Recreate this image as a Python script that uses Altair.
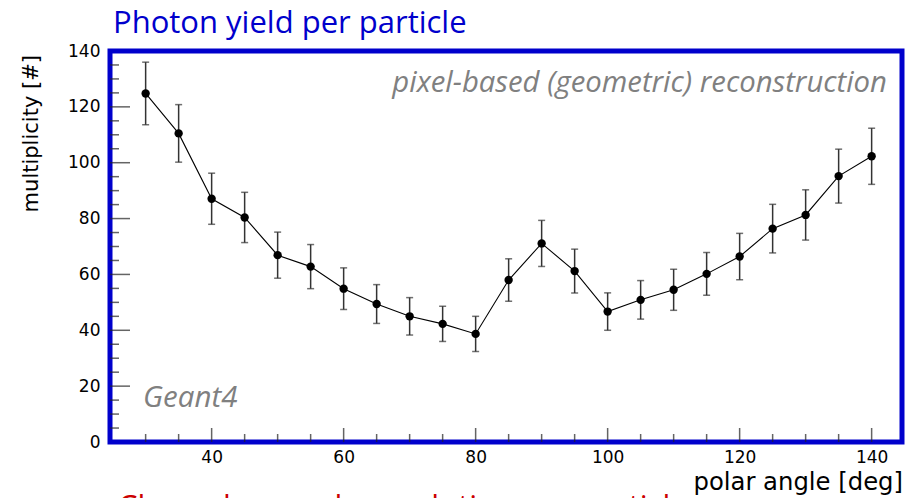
import altair as alt
import pandas as pd

# Photon multiplicity per particle vs. polar angle (Geant4, pixel-based reconstruction)
angle = [30, 35, 40, 45, 50, 55, 60, 65, 70, 75, 80, 85, 90, 95, 100,
         105, 110, 115, 120, 125, 130, 135, 140]
multiplicity = [124.8, 110.5, 87.1, 80.4, 66.9, 62.8, 54.9, 49.4, 45.0, 42.3,
                38.7, 58.0, 71.1, 61.2, 46.7, 50.9, 54.5, 60.2, 66.4, 76.4,
                81.3, 95.2, 102.3]
error = [11.2, 10.3, 9.15, 9.0, 8.25, 7.9, 7.45, 6.95, 6.7, 6.3, 6.3, 7.6,
         8.25, 7.85, 6.7, 6.9, 7.35, 7.65, 8.3, 8.7, 9.0, 9.65, 10.05]

# Axis tick positions (ticks drawn inside the frame, ROOT style)
x_major = [40, 60, 80, 100, 120, 140]
x_minor = [30, 35, 45, 50, 55, 65, 70, 75, 85, 90, 95, 105, 110, 115,
           125, 130, 135]
y_major = [20, 40, 60, 80, 100, 120]
y_minor = [5, 10, 15, 25, 30, 35, 45, 50, 55, 65, 70, 75, 85, 90, 95,
           105, 110, 115, 125, 130, 135]

W, H = 792, 391
X_DOMAIN = [24.6, 144.6]
Y_DOMAIN = [0, 140]
AXIS_FONT = "DejaVu Sans"
TEXT_FONT = "Open Sans"
TICK_COLOR = "#222222"

df = pd.DataFrame({"angle": angle, "mult": multiplicity, "err": error})
df["lo"] = df["mult"] - df["err"]
df["hi"] = df["mult"] + df["err"]

xs = alt.Scale(domain=X_DOMAIN, nice=False, zero=False)
ys = alt.Scale(domain=Y_DOMAIN, nice=False, zero=False)

x_axis = alt.Axis(
    values=x_major, format="d", grid=False, domain=False, ticks=False, tickSize=0,
    labelFont=AXIS_FONT, labelFontSize=17, labelColor="black", labelPadding=7,
    title=None,
)
y_axis = alt.Axis(
    values=[0] + y_major + [140], format="d", grid=False, domain=False, ticks=False,
    tickSize=0, labelFont=AXIS_FONT, labelFontSize=17, labelColor="black",
    labelPadding=10, title=None,
)

base = alt.Chart(df)

err_rules = base.mark_rule(color="#333333", strokeWidth=1.5).encode(
    x=alt.X("angle:Q", scale=xs, axis=x_axis),
    y=alt.Y("lo:Q", scale=ys, axis=y_axis),
    y2="hi:Q",
)
cap_lo = base.mark_tick(orient="horizontal", size=7, thickness=1.5,
                        color="#333333").encode(
    x=alt.X("angle:Q", scale=xs), y=alt.Y("lo:Q", scale=ys))
cap_hi = base.mark_tick(orient="horizontal", size=7, thickness=1.5,
                        color="#333333").encode(
    x=alt.X("angle:Q", scale=xs), y=alt.Y("hi:Q", scale=ys))
line = base.mark_line(color="black", strokeWidth=1.1).encode(
    x=alt.X("angle:Q", scale=xs), y=alt.Y("mult:Q", scale=ys))
points = base.mark_circle(color="black", opacity=1, size=70).encode(
    x=alt.X("angle:Q", scale=xs), y=alt.Y("mult:Q", scale=ys))

# Inner tick marks
xt_major = alt.Chart(pd.DataFrame({"v": x_major})).mark_tick(
    orient="vertical", size=14, thickness=1.5, color=TICK_COLOR).encode(
    x=alt.X("v:Q", scale=xs), y=alt.value(H - 7))
xt_minor = alt.Chart(pd.DataFrame({"v": x_minor})).mark_tick(
    orient="vertical", size=8, thickness=1.5, color=TICK_COLOR).encode(
    x=alt.X("v:Q", scale=xs), y=alt.value(H - 4))
yt_major = alt.Chart(pd.DataFrame({"v": y_major})).mark_tick(
    orient="horizontal", size=20, thickness=1.5, color=TICK_COLOR).encode(
    y=alt.Y("v:Q", scale=ys), x=alt.value(10))
yt_minor = alt.Chart(pd.DataFrame({"v": y_minor})).mark_tick(
    orient="horizontal", size=9, thickness=1.5, color=TICK_COLOR).encode(
    y=alt.Y("v:Q", scale=ys), x=alt.value(4.5))

one = pd.DataFrame({"k": [0]})


def label(text, x, y, color, size, align="left", style="normal",
          font=TEXT_FONT, angle=0):
    return alt.Chart(one).mark_text(
        text=text, font=font, fontSize=size, color=color, align=align,
        baseline="alphabetic", fontStyle=style, angle=angle,
    ).encode(x=alt.value(x), y=alt.value(y))


# Axis titles
x_title = label("polar angle [deg]", W + 1, H + 48, "black", 24.3,
                align="right", font=AXIS_FONT)
y_title = label("multiplicity [#]", -72, 4, "black", 21, align="right",
                font=AXIS_FONT, angle=270)

title = label("Photon yield per particle", 3, -18, "#0000CC", 31)
method = label("pixel-based (geometric) reconstruction", 777, 40.7, "#808080",
               29.3, align="right", style="italic")
geant = label("Geant4", 33, 355.7, "#808080", 29.5, style="italic")
next_title = label("Cherenkov angle resolution per particle", 8, 466,
                   "#CC0000", 31)

chart = alt.layer(
    err_rules, cap_lo, cap_hi, line, points,
    xt_major, xt_minor, yt_major, yt_minor,
    x_title, y_title, title, method, geant, next_title,
).properties(
    width=W, height=H,
    autosize=alt.AutoSizeParams(type="none"),
    padding={"left": 110, "top": 51, "right": 3, "bottom": 56},
    background="white",
).configure_view(
    stroke="#0000CC", strokeWidth=5,
)

chart.save("out.html", embed_options={"renderer": "svg", "actions": False})
